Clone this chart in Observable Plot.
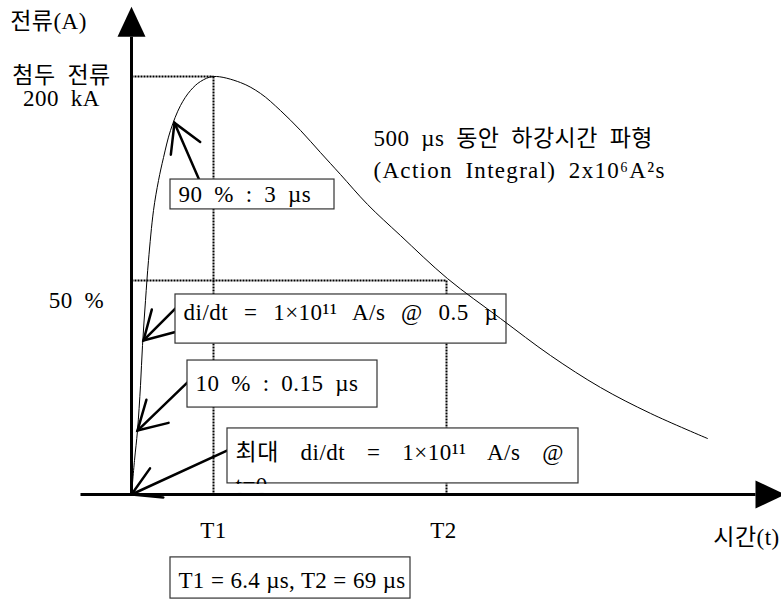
<!DOCTYPE html>
<html><head><meta charset="utf-8">
<script src="https://cdn.jsdelivr.net/npm/d3@7"></script>
<script src="https://cdn.jsdelivr.net/npm/@observablehq/plot@0.6"></script>
<style>
html,body{margin:0;padding:0;background:#fff}
#chart svg{display:block}
g[aria-description="wide1"] text{word-spacing:9.5px}
g[aria-description="wide2"] text{word-spacing:15.5px}
g[aria-description="wide3"] text{letter-spacing:1.3px}
g[aria-description="tight"] text{word-spacing:0.5px;letter-spacing:0.2px}
</style></head>
<body><div id="chart"></div>
<script>
// ---- schematic waveform (time position in schematic units from origin, current in kA) ----
const curveT = [0, 3, 6, 9, 11, 14, 17, 22, 27, 32, 39, 49, 59, 69, 82, 109, 129, 149, 169, 189, 209, 236, 269, 316, 369, 419, 469, 519, 576];
const curveI = [0, 16.3, 30.6, 52.2, 71.3, 92.8, 112, 135.9, 150.2, 161.2, 174.2, 186.1, 193.3, 197.6, 200, 197.1, 191.9, 183.7, 174.2, 163.6, 153.1, 138.8, 123.9, 103.3, 84.2, 66.5, 51.2, 38.8, 26.8];

// reference marks
const T1 = 82, T2 = 315, peakI = 200, halfI = 102.4;

// axis extents (schematic units)
const xAxisFrom = -51, xAxisTo = 624, yAxisTo = 219;

// annotation boxes
const boxLabels = ["90 % : 3 µs", "di/dt = 1×10¹¹ A/s @ 0.5 µ", "10 % : 0.15 µs", "최대 di/dt = 1×10¹¹ A/s @", "T1 = 6.4 µs, T2 = 69 µs"];
const boxStyle = ["plain", "wide1", "plain", "wide2", "tight"];
const boxT1 = [39, 44, 56, 96, 39];
const boxT2 = [203, 375, 246, 447, 279];
const boxIlo = [136.4, 72.2, 41.6, 5.3, -49.8];
const boxIhi = [150.7, 95.7, 64.1, 31.6, -30.1];
const boxTextI = [143.5, 87.1, 53.1, 20.1, -41.1];
const box4Line2 = "t=0", box4Line2I = 4.3;

// arrows from boxes to the curve
const arrowFromT = [68, 44, 56, 96];
const arrowFromI = [150.2, 89, 53.6, 21.1];
const arrowToT = [43, 12, 6, 0];
const arrowToI = [177.8, 73.7, 30.6, 0];

// free labels
const labelText = ["전류(A)", "첨두 전류", "200 kA", "50 %", "T1", "T2", "시간(t)", "500 µs 동안 하강시간 파형", "(Action Integral) 2x10⁶A²s"];
const labelT = [-83, -70, -70, -55, 82, 312, 615, 242, 242];
const labelI = [226.3, 200.5, 189.5, 92.8, -17.2, -17.2, -20.6, 170.3, 155];
const labelAnchor = ["middle", "middle", "middle", "middle", "middle", "middle", "middle", "start", "start"];
const labelStyle = ["plain", "plain", "plain", "plain", "plain", "plain", "plain", "plain", "wide3"];

// ---- build ----
const W = 781, H = 612;
const xDomain = [-131, 650], yDomain = [-56.46, 236.36];
const xs = Plot.scale({x: {domain: xDomain, range: [0, W]}});
const ys = Plot.scale({y: {domain: yDomain, range: [H, 0]}});

const curve = curveT.map((t, k) => ({t, i: curveI[k]}));
const guides = [
  {x1: 0, y1: peakI, x2: T1, y2: peakI},
  {x1: T1, y1: peakI, x2: T1, y2: 0},
  {x1: 0, y1: halfI, x2: T2, y2: halfI},
  {x1: T2, y1: halfI, x2: T2, y2: 0}
];
const boxes = boxLabels.map((label, k) => ({label, s: boxStyle[k], x1: boxT1[k], x2: boxT2[k], y1: boxIlo[k], y2: boxIhi[k], ty: boxTextI[k]}));
const arrows = arrowFromT.map((_, k) => {
  const dx = xs.apply(arrowFromT[k]) - xs.apply(arrowToT[k]);
  const dy = ys.apply(arrowFromI[k]) - ys.apply(arrowToI[k]);
  return {ft: arrowFromT[k], fi: arrowFromI[k], tt: arrowToT[k], ti: arrowToI[k], rot: Math.atan2(dx, -dy) * 180 / Math.PI};
});
const labels = labelText.map((text, k) => ({text, t: labelT[k], i: labelI[k], a: labelAnchor[k], s: labelStyle[k]}));
const axisHeads = [{t: 0, i: yAxisTo, rot: 0}, {t: xAxisTo, i: 0, rot: 90}];
const axisLines = [{x1: 0, y1: 0, x2: 0, y2: yAxisTo}, {x1: xAxisFrom, y1: 0, x2: xAxisTo, y2: 0}];
const hidden = [{x1: boxT1[3], x2: boxT1[3] + 104, y1: 0.5, y2: boxIlo[3] - 0.5}];

const wings = {draw(ctx, l) {
  const a = Math.PI / 6;
  ctx.moveTo(-l * Math.sin(a), -l * Math.cos(a));
  ctx.lineTo(0, 0);
  ctx.lineTo(l * Math.sin(a), -l * Math.cos(a));
}};
const tri = {draw(ctx, l, r) {
  ctx.moveTo(-r, 0); ctx.lineTo(0, -l); ctx.lineTo(r, 0); ctx.closePath();
}};

const FONT = "'Liberation Serif', 'Noto Sans CJK KR', serif";
const FS = 23;
const txt = {fontSize: FS, fontFamily: FONT, fill: "#000"};

const styles = ["plain", "wide1", "wide2", "wide3", "tight"];
const boxTextMarks = styles.map(s => Plot.text(boxes, {x: "x1", y: "ty", dx: 8, text: "label", textAnchor: "start", ...txt, filter: d => d.s === s, ariaDescription: s}));
const labelMarks = styles.flatMap(s => ["middle", "start"].map(a =>
  Plot.text(labels, {x: "t", y: "i", text: "text", textAnchor: a, ...txt, filter: d => d.a === a && d.s === s, ariaDescription: s})));

const plot = Plot.plot({
  width: W, height: H,
  margin: 0,
  x: {domain: xDomain, axis: null},
  y: {domain: yDomain, axis: null},
  style: {fontFamily: FONT, background: "#fff", letterSpacing: "0.5px", wordSpacing: "5.5px"},
  marks: [
    Plot.link(guides, {x1: "x1", y1: "y1", x2: "x2", y2: "y2", stroke: "#000", strokeWidth: 2, strokeDasharray: "2,1"}),
    Plot.link(arrows, {x1: "ft", y1: "fi", x2: "tt", y2: "ti", stroke: "#000", strokeWidth: 2.5, strokeLinecap: "round"}),
    Plot.vector(arrows, {x: "tt", y: "ti", rotate: "rot", length: 32, anchor: "start", shape: wings, stroke: "#000", strokeWidth: 2.5, fill: "none", strokeLinecap: "round", strokeLinejoin: "miter"}),
    Plot.rect(boxes, {x1: "x1", x2: "x2", y1: "y1", y2: "y2", fill: "#fff", stroke: "#333", strokeWidth: 1.2}),
    ...boxTextMarks,
    Plot.text([boxes[3]], {x: "x1", y: box4Line2I, dx: 8, text: () => box4Line2, textAnchor: "start", ...txt}),
    Plot.rect(hidden, {x1: "x1", x2: "x2", y1: "y1", y2: "y2", fill: "#fff"}),
    Plot.line(curve, {x: "t", y: "i", curve: "catmull-rom", stroke: "#000", strokeWidth: 1}),
    Plot.link(axisLines, {x1: "x1", y1: "y1", x2: "x2", y2: "y2", stroke: "#000", strokeWidth: 3}),
    Plot.vector(axisHeads, {x: "t", y: "i", rotate: "rot", length: 30, r: 14, anchor: "start", shape: tri, fill: "#000", stroke: "none"}),
    ...labelMarks
  ]
});
document.getElementById("chart").appendChild(plot);
</script>
</body></html>
